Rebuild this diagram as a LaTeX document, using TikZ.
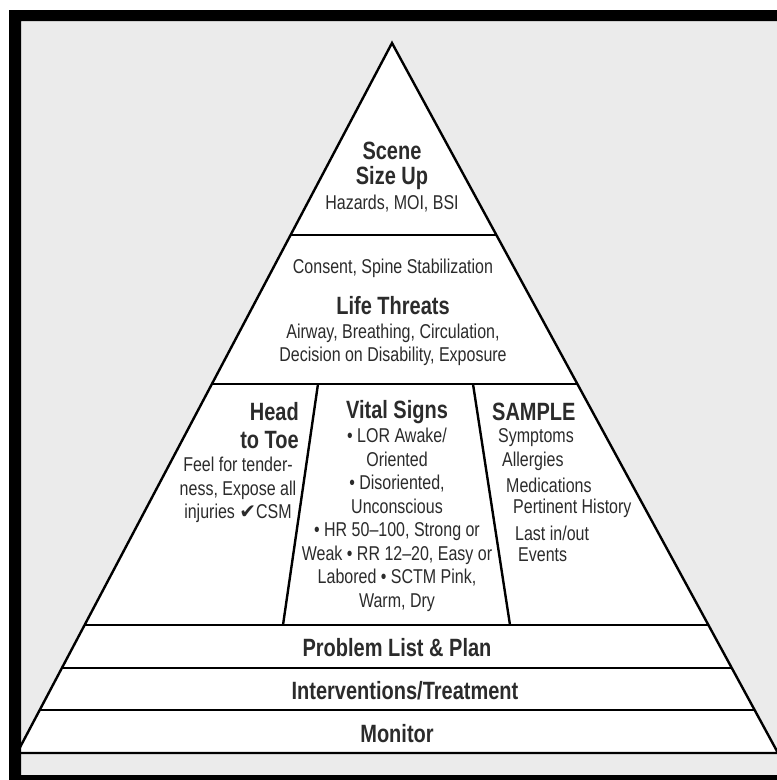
\documentclass[tikz,border=0pt]{standalone}
\usepackage{fontspec}
\usetikzlibrary{calc}
\setmainfont{Liberation Sans}
\newfontfamily\pyrfont{Liberation Sans}[FakeStretch=0.8, Ligatures=TeX]
\newfontfamily\pyrhead{Liberation Sans}[FakeStretch=0.8, Ligatures=TeX]
\newfontfamily\symfont{DejaVu Sans}
\definecolor{paper}{HTML}{EBEBEB}
\definecolor{ink}{HTML}{2B2B2B}
\tikzset{
    bodytext/.style={font=\pyrfont\fontsize{20}{23.5}\selectfont, text=ink, inner sep=0pt, align=center},
    headtext/.style={font=\pyrhead\bfseries\fontsize{25}{28}\selectfont, text=ink, inner sep=0pt, align=center},
    band/.style={line width=2.4pt, line join=miter}
}
\begin{document}
\begin{tikzpicture}[x=1pt,y=-1pt]
        \useasboundingbox (0,0) rectangle (777,780);
        \clip (0,0) rectangle (777,780);
        \fill[white] (0,0) rectangle (777,780);
        \fill[paper] (21,21) rectangle (790,775);

        % pyramid
        \coordinate (apex) at (392,43);
        \coordinate (bl) at (17,753);
        \coordinate (br) at (778,753);
        \filldraw[band, fill=white] (apex) -- (bl) -- (br) -- cycle;

        \foreach \t/\n in {0.2704/a,0.4803/b,0.8197/c,0.8803/d,0.9394/e} {
            \coordinate (l\n) at ($(apex)!\t!(bl)$);
            \coordinate (r\n) at ($(apex)!\t!(br)$);
            \draw[band] (l\n) -- (r\n);
        }

        \coordinate (d1t) at (318,384);
        \coordinate (d1b) at (283,625);
        \coordinate (d2t) at (473,384);
        \coordinate (d2b) at (510,625);
        \draw[band] (d1t) -- (d1b);
        \draw[band] (d2t) -- (d2b);

        % frame
        \fill[black, even odd rule] (9,10) rectangle (790,790) (21,21) rectangle (790,775);

        % top
        \node[headtext] (scene) at (392,151) {Scene};
        \node[headtext] (sizeup) at (392,178) {Size Up};
        \node[bodytext] (hazards) at (392,204) {Hazards, MOI, BSI};

        % life threats
        \node[bodytext] (consent) at (393,268) {Consent, Spine Stabilization};
        \node[headtext] (life) at (393,306) {Life Threats};
        \node[bodytext] (abc) at (393,345) {Airway, Breathing, Circulation,\\Decision on Disability, Exposure};

        % head to toe
        \node[headtext, align=right, anchor=east] (head) at (299,426) {Head\\to Toe};
        \node[bodytext] (feel) at (238,490) {Feel for tender-\\ness, Expose all\\injuries {\symfont\char"2714}CSM};

        % vital signs
        \node[headtext] (vital) at (397,412) {Vital Signs};
        \node[bodytext] (vitallist) at (397,520) {\textbullet\ LOR Awake/\\Oriented\\\textbullet\ Disoriented,\\Unconscious\\\textbullet\ HR 50–100, Strong or\\Weak \textbullet\ RR 12–20, Easy or\\Labored \textbullet\ SCTM Pink,\\Warm, Dry};

        % sample
        \node[headtext, anchor=west] (sample) at (492,412) {SAMPLE};
        \node[bodytext, anchor=west] (sym) at (498,438) {Symptoms};
        \node[bodytext, anchor=west] (all) at (502,461) {Allergies};
        \node[bodytext, anchor=west] (med) at (506,485) {Medications};
        \node[bodytext, anchor=west] (hist) at (513,508) {Pertinent History};
        \node[bodytext, anchor=west] (last) at (515,533) {Last in/out};
        \node[bodytext, anchor=west] (events) at (518,555) {Events};

        % bottom bands
        \node[headtext] (problem) at (397,648) {Problem List \& Plan};
        \node[headtext] (interv) at (405,691) {Interventions/Treatment};
        \node[headtext] (monitor) at (397,734) {Monitor};
\end{tikzpicture}
\end{document}
